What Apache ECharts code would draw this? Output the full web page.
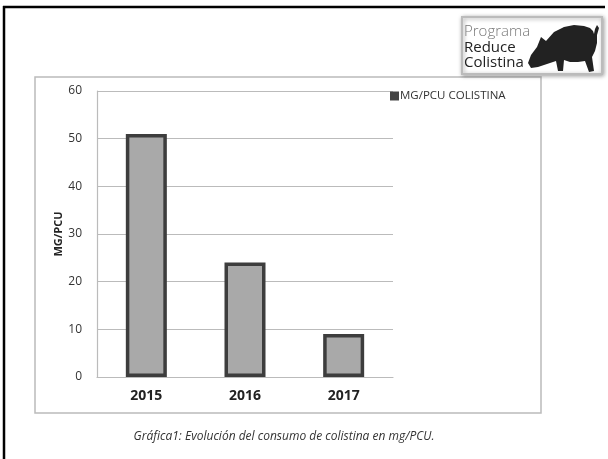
<!DOCTYPE html>
<html>
<head>
<meta charset="utf-8">
<script src="https://cdn.jsdelivr.net/npm/echarts@6/dist/echarts.min.js"></script>
<style>
html,body{margin:0;padding:0;background:#fff;}
#chart{width:608px;height:459px;}
</style>
</head>
<body>
<div id="chart"></div>
<script>
const categories = ['2015', '2016', '2017'];
const seriesName = 'MG/PCU COLISTINA';
const values = [51, 24, 9];
const yTicks = [0, 10, 20, 30, 40, 50, 60];
const yAxisName = 'MG/PCU';
const caption = 'Gráfica1: Evolución del consumo de colistina en mg/PCU.';
const logoLines = ['Programa', 'Reduce', 'Colistina'];

const FONT = '"Open Sans", "DejaVu Sans", sans-serif';
const chart = echarts.init(document.getElementById('chart'), null, {renderer: 'canvas'});

const pigShape = [[0,40],[3,32],[9,24],[13,14],[18,18],[26,9],[36,4],[46,2],[56,3],[62,5],[65,8],[66,11],[67,6],[69,2],[71,5],[69,12],[69,20],[67,28],[64,34],[66,48],[61,49],[57,38],[50,39],[42,39],[36,37],[35,48],[30,48],[28,38],[22,40],[10,44],[3,45]];

chart.setOption({
  backgroundColor: '#fff',
  animation: false,
  grid: {left: 97, right: 215, top: 91, bottom: 82},
  legend: {
    data: [seriesName],
    left: 385, top: 85,
    itemWidth: 9, itemHeight: 9, itemGap: 2,
    icon: 'rect',
    itemStyle: {color: '#444', borderColor: '#444', borderWidth: 0},
    textStyle: {fontFamily: FONT, fontSize: 11.5, color: '#333', padding: [0, 0, 0, -4]}
  },
  xAxis: {
    type: 'category',
    data: categories,
    axisLine: {show: true, lineStyle: {color: '#bbb', width: 1.2}},
    axisTick: {show: false},
    axisLabel: {fontFamily: FONT, fontSize: 14, fontWeight: 'bold', color: '#222', margin: 12}
  },
  yAxis: {
    type: 'value',
    min: 0, max: 60, interval: 10,
    name: yAxisName,
    nameLocation: 'middle',
    nameGap: 31,
    nameRotate: 90,
    nameTextStyle: {fontFamily: FONT, fontSize: 11, fontWeight: 'bold', color: '#222'},
    axisLine: {show: true, lineStyle: {color: '#bbb', width: 1.2}},
    axisTick: {show: false},
    splitLine: {show: true, lineStyle: {color: '#bbb', width: 1.2}},
    axisLabel: {
      fontFamily: FONT, fontSize: 12, color: '#333', margin: 15,
      formatter: v => yTicks.includes(v) ? String(v) : ''
    }
  },
  series: [{
    name: seriesName,
    type: 'bar',
    data: values,
    barWidth: 41,
    itemStyle: {color: '#a9a9a9', borderColor: '#3d3d3d', borderWidth: 3.5}
  }],
  graphic: [
    {type: 'line', shape: {x1: 3, y1: 7, x2: 605, y2: 7}, style: {stroke: '#000', lineWidth: 2.5}, z: 10},
    {type: 'line', shape: {x1: 4, y1: 6, x2: 4, y2: 459}, style: {stroke: '#000', lineWidth: 2.5}, z: 10},
    {type: 'rect', shape: {x: 35, y: 77, width: 506, height: 336}, style: {fill: 'none', stroke: '#bbb', lineWidth: 1.5}, z: -1},
    {type: 'rect', shape: {x: 462, y: 17, width: 140, height: 57},
      style: {fill: '#fff', stroke: '#bbb', lineWidth: 2, shadowBlur: 4, shadowColor: 'rgba(0,0,0,0.35)', shadowOffsetX: 1, shadowOffsetY: 1}, z: 20},
    {type: 'text', x: 464, y: 24, style: {text: logoLines[0], font: '300 15px ' + FONT, fill: '#777'}, z: 21},
    {type: 'text', x: 464, y: 40, style: {text: logoLines[1], font: '15px ' + FONT, fill: '#222'}, z: 21},
    {type: 'text', x: 464, y: 55, style: {text: logoLines[2], font: '15px ' + FONT, fill: '#222'}, z: 21},
    {type: 'polygon', x: 528, y: 23, shape: {points: pigShape}, style: {fill: '#222'}, z: 21},
    {type: 'text', x: 284, y: 437, style: {text: caption, font: 'italic 12px ' + FONT, fill: '#333', textAlign: 'center', textVerticalAlign: 'middle'}}
  ]
});
</script>
</body>
</html>
